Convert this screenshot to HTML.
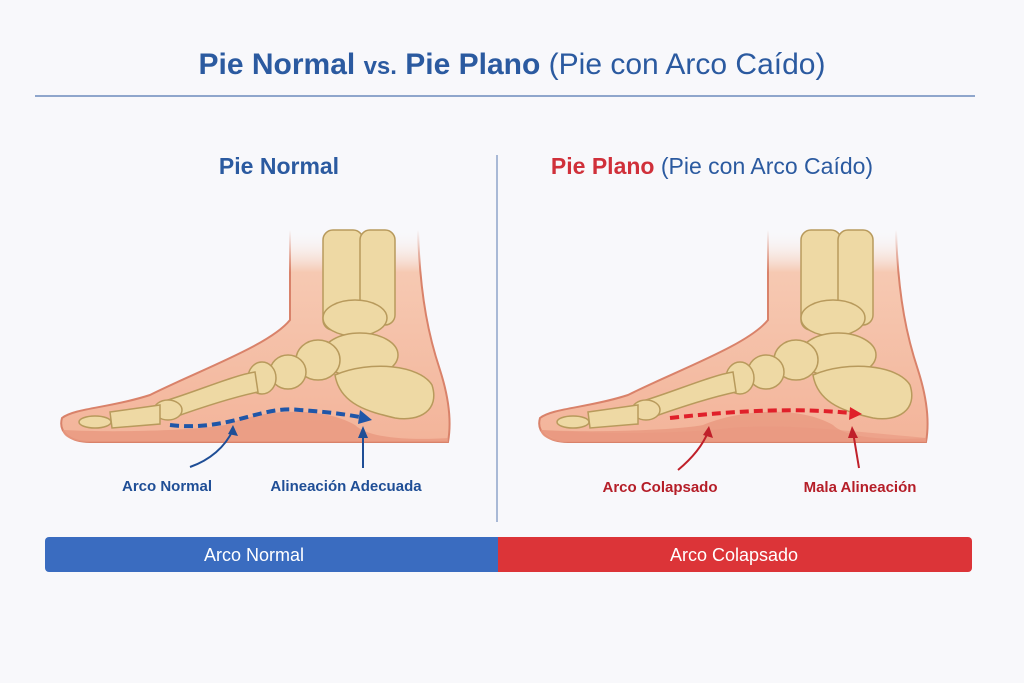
<!DOCTYPE html>
<html><head><meta charset="utf-8"><style>
body{margin:0;background:#f8f8fb;}
svg{display:block}
text{font-family:"Liberation Sans",sans-serif;}
</style></head><body>
<svg width="1024" height="683" viewBox="0 0 1024 683" xmlns="http://www.w3.org/2000/svg">
<defs>
<linearGradient id="leg" x1="0" y1="0" x2="0" y2="1">
<stop offset="0" stop-color="#f8f8fb" stop-opacity="0"/><stop offset="0.2" stop-color="#f6c9b2"/><stop offset="1" stop-color="#f3b49a"/>
</linearGradient>
<linearGradient id="legs" x1="0" y1="0" x2="0" y2="1">
<stop offset="0" stop-color="#d9826a" stop-opacity="0"/><stop offset="0.2" stop-color="#d9826a"/><stop offset="1" stop-color="#d9826a"/>
</linearGradient>
<g id="foot">
<path d="M290,230 L290,320 C270,345 200,370 150,395 C110,408 75,408 62,418 C58,432 70,442 90,442 L448,442 C452,420 448,395 440,370 C430,340 420,300 418,230" fill="url(#leg)" stroke="url(#legs)" stroke-width="2"/>
<path d="M63,430 C120,433 200,430 225,425 C260,410 320,405 355,425 C370,440 420,440 448,438 L448,442 L90,442 C72,442 62,436 63,430Z" fill="#e99880" opacity="0.8"/>
<g fill="#eed9a4" stroke="#b89a5c" stroke-width="1.5">
<rect x="323" y="230" width="40" height="100" rx="10"/>
<rect x="360" y="230" width="35" height="95" rx="10"/>
<ellipse cx="355" cy="318" rx="32" ry="18"/>
<ellipse cx="360" cy="355" rx="38" ry="22"/>
<path d="M335,375 C370,360 420,365 432,385 C440,410 420,422 395,418 C370,412 340,405 335,375Z"/>
<ellipse cx="318" cy="360" rx="22" ry="20"/>
<ellipse cx="288" cy="372" rx="18" ry="17"/>
<ellipse cx="262" cy="378" rx="14" ry="16"/>
<path d="M168,400 C200,390 235,375 255,372 L258,392 C230,398 200,408 172,418Z"/>
<ellipse cx="168" cy="410" rx="14" ry="10"/>
<path d="M110,412 L160,405 L160,424 L112,428Z"/>
<ellipse cx="95" cy="422" rx="16" ry="6"/>
</g>
</g>
</defs>
<text x="512" y="74" text-anchor="middle" font-size="30" font-weight="bold" fill="#2b5aa0">Pie Normal <tspan font-size="24">vs.</tspan> Pie Plano <tspan font-weight="normal">(Pie con Arco Caído)</tspan></text>
<line x1="35" y1="96" x2="975" y2="96" stroke="#8fa6cc" stroke-width="2"/>
<line x1="497" y1="155" x2="497" y2="522" stroke="#a9b9d6" stroke-width="2"/>
<text x="279" y="174" text-anchor="middle" font-size="23" font-weight="bold" fill="#2b5aa0">Pie Normal</text>
<text x="712" y="174" text-anchor="middle" font-size="23" fill="#2b5aa0"><tspan font-weight="bold" fill="#d0303a">Pie Plano</tspan> (Pie con Arco Caído)</text>
<use href="#foot"/>
<path d="M170,425 C230,432 260,405 300,410 C330,412 350,415 365,418" fill="none" stroke="#1f56a8" stroke-width="4" stroke-dasharray="9,5"/>
<path d="M360,410 L372,420 L358,424Z" fill="#1f56a8"/>
<path d="M190,467 C210,460 225,447 233,430" fill="none" stroke="#1f4e96" stroke-width="2"/>
<path d="M233,425 L238,436 L228,434Z" fill="#1f4e96"/>
<line x1="363" y1="468" x2="363" y2="432" stroke="#1f4e96" stroke-width="2"/>
<path d="M363,426 L368,438 L358,438Z" fill="#1f4e96"/>
<text x="167" y="491" text-anchor="middle" font-size="15" font-weight="bold" fill="#1f4e96">Arco Normal</text>
<text x="346" y="491" text-anchor="middle" font-size="15" font-weight="bold" fill="#1f4e96">Alineación Adecuada</text>
<g transform="translate(478,0)"><use href="#foot"/></g>
<path d="M540,430 C620,436 700,432 730,428 C780,424 820,428 926,438 L926,442 L560,442Z" fill="#e99880" opacity="0.6"/>
<path d="M670,418 C740,410 800,408 850,413" fill="none" stroke="#e0202a" stroke-width="4" stroke-dasharray="9,5"/>
<path d="M850,407 L862,414 L849,420Z" fill="#e0202a"/>
<path d="M678,470 C690,460 702,447 708,432" fill="none" stroke="#c0202a" stroke-width="2"/>
<path d="M709,426 L713,438 L703,435Z" fill="#c0202a"/>
<line x1="859" y1="468" x2="853" y2="432" stroke="#c0202a" stroke-width="2"/>
<path d="M852,426 L858,438 L848,438Z" fill="#c0202a"/>
<text x="660" y="492" text-anchor="middle" font-size="15" font-weight="bold" fill="#b51e28">Arco Colapsado</text>
<text x="860" y="492" text-anchor="middle" font-size="15" font-weight="bold" fill="#b51e28">Mala Alineación</text>
<rect x="45" y="537" width="460" height="35" rx="4" fill="#3a6cc0"/>
<rect x="498" y="537" width="474" height="35" rx="4" fill="#dc3438"/>
<rect x="498" y="537" width="8" height="35" fill="#dc3438"/>
<text x="254" y="561" text-anchor="middle" font-size="18" fill="#fff">Arco Normal</text>
<text x="734" y="561" text-anchor="middle" font-size="18" fill="#fff">Arco Colapsado</text>
</svg>
</body></html>
